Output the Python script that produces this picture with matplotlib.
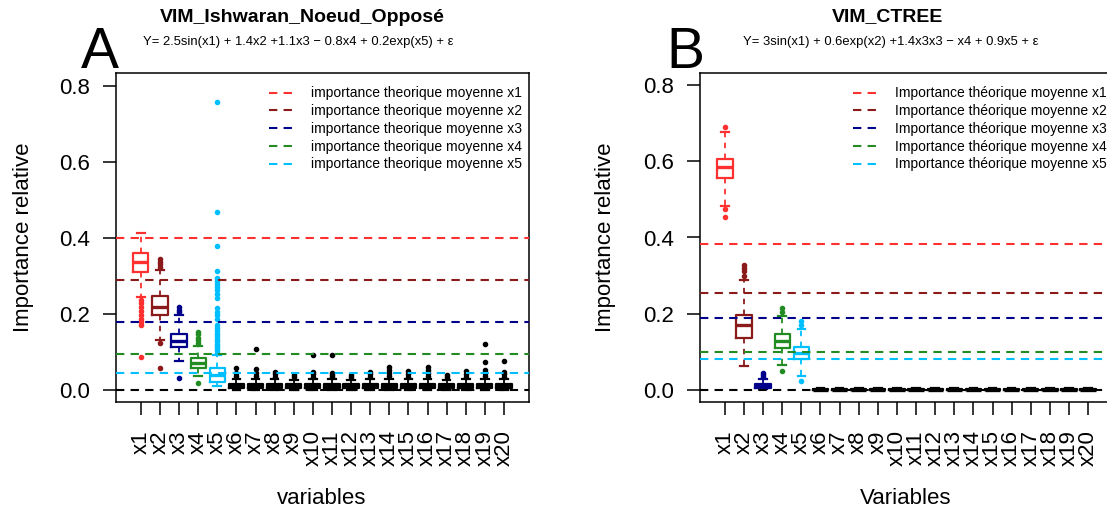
import matplotlib
matplotlib.use('Agg')
import matplotlib.pyplot as plt
from matplotlib.lines import Line2D

plt.rcParams['font.family'] = ['Liberation Sans', 'DejaVu Sans']

# ---------------- data ----------------
variables = ['x%d' % i for i in range(1, 21)]
box_colors = ['#FF3030', '#8B1A1A', '#00008B', '#228B22', '#00BFFF'] + ['#000000'] * 15

# Panel A
A_title = 'VIM_Ishwaran_Noeud_Opposé'
A_subtitle = 'Y= 2.5sin(x1) + 1.4x2 +1.1x3 \u2212 0.8x4 + 0.2exp(x5) + \u03b5'
A_q1 = [0.310, 0.196, 0.112, 0.057, 0.021, 0.004, 0.004, 0.004, 0.004, 0.004,
        0.004, 0.004, 0.004, 0.004, 0.004, 0.004, 0.004, 0.004, 0.004, 0.004]
A_med = [0.338, 0.218, 0.130, 0.070, 0.039, 0.010, 0.010, 0.010, 0.010, 0.010,
         0.010, 0.010, 0.010, 0.010, 0.010, 0.010, 0.010, 0.010, 0.010, 0.010]
A_q3 = [0.361, 0.247, 0.147, 0.083, 0.058, 0.016, 0.016, 0.016, 0.015, 0.016,
        0.016, 0.015, 0.016, 0.016, 0.016, 0.016, 0.015, 0.016, 0.016, 0.016]
A_whislo = [0.245, 0.132, 0.075, 0.037, 0.011, 0.000, 0.000, 0.000, 0.000, 0.000,
            0.000, 0.000, 0.000, 0.000, 0.000, 0.000, 0.000, 0.000, 0.000, 0.000]
A_whishi = [0.412, 0.316, 0.197, 0.116, 0.092, 0.030, 0.030, 0.028, 0.027, 0.029,
            0.029, 0.027, 0.030, 0.030, 0.029, 0.030, 0.027, 0.029, 0.030, 0.029]
A_fliers = [
    [0.238, 0.228, 0.218, 0.208, 0.198, 0.188, 0.178, 0.170, 0.087],
    [0.324, 0.331, 0.338, 0.345, 0.124, 0.058],
    [0.204, 0.211, 0.218, 0.031],
    [0.124, 0.131, 0.138, 0.146, 0.153, 0.019],
    [0.757, 0.467, 0.380, 0.313, 0.295, 0.287, 0.279, 0.270, 0.262, 0.252, 0.243,
     0.215, 0.205, 0.196, 0.186, 0.170, 0.162, 0.155, 0.148, 0.141, 0.134, 0.128,
     0.122, 0.116, 0.110, 0.104, 0.098],
    [0.036, 0.044, 0.058],
    [0.036, 0.045, 0.054, 0.108],
    [0.035, 0.041, 0.047],
    [0.034, 0.040],
    [0.035, 0.041, 0.047, 0.092],
    [0.035, 0.040, 0.046, 0.092],
    [0.034, 0.040],
    [0.035, 0.041, 0.047],
    [0.036, 0.044, 0.052, 0.060],
    [0.035, 0.042, 0.051],
    [0.036, 0.044, 0.052, 0.060],
    [0.034, 0.040],
    [0.035, 0.042, 0.049],
    [0.036, 0.044, 0.052, 0.074, 0.120],
    [0.035, 0.041, 0.047, 0.075],
]
A_theo = [0.399, 0.289, 0.178, 0.095, 0.044]
A_legend = ['importance theorique moyenne x%d' % i for i in range(1, 6)]
A_xlabel = 'variables'

# Panel B
B_title = 'VIM_CTREE'
B_subtitle = 'Y= 3sin(x1) + 0.6exp(x2) +1.4x3x3 \u2212 x4 + 0.9x5 + \u03b5'
B_q1 = [0.555, 0.136, 0.006, 0.109, 0.080, 0.000, 0.000, 0.000, 0.000, 0.000,
        0.000, 0.000, 0.000, 0.000, 0.000, 0.000, 0.000, 0.000, 0.000, 0.000]
B_med = [0.584, 0.170, 0.011, 0.129, 0.096, 0.001, 0.001, 0.001, 0.001, 0.001,
         0.001, 0.001, 0.001, 0.001, 0.001, 0.001, 0.001, 0.001, 0.001, 0.001]
B_q3 = [0.606, 0.198, 0.016, 0.147, 0.112, 0.003, 0.003, 0.003, 0.003, 0.003,
        0.003, 0.003, 0.003, 0.003, 0.003, 0.003, 0.003, 0.003, 0.003, 0.003]
B_whislo = [0.483, 0.063, 0.002, 0.066, 0.038, 0.000, 0.000, 0.000, 0.000, 0.000,
            0.000, 0.000, 0.000, 0.000, 0.000, 0.000, 0.000, 0.000, 0.000, 0.000]
B_whishi = [0.678, 0.289, 0.030, 0.194, 0.160, 0.005, 0.005, 0.005, 0.005, 0.005,
            0.005, 0.005, 0.005, 0.005, 0.005, 0.005, 0.005, 0.005, 0.005, 0.005]
B_fliers = [
    [0.689, 0.476, 0.455],
    [0.300, 0.312, 0.320, 0.328],
    [0.035, 0.040, 0.044],
    [0.205, 0.216, 0.050],
    [0.170, 0.182, 0.024],
] + [[] for _ in range(15)]
B_theo = [0.382, 0.255, 0.188, 0.099, 0.080]
B_legend = ['Importance théorique moyenne x%d' % i for i in range(1, 6)]
B_xlabel = 'Variables'

ylabel = 'Importance relative'
yticks = [0.0, 0.2, 0.4, 0.6, 0.8]
ytick_labels = ['0.0', '0.2', '0.4', '0.6', '0.8']

# ---------------- layout ----------------
W, H = 1107, 512
fig = plt.figure(figsize=(W / 100, H / 100), dpi=100)


def px_axes(left, top, right, bottom):
    return fig.add_axes([left / W, 1 - bottom / H, (right - left) / W, (bottom - top) / H])


def ftext(x, y, s, **kw):
    fig.text(x / W, 1 - y / H, s, **kw)


DASH = (0, (4, 3))


def panel(ax, q1, med, q3, wlo, whi, fliers, theo, legend, ylim):
    stats = []
    for i, v in enumerate(variables):
        stats.append(dict(med=med[i], q1=q1[i], q3=q3[i], whislo=wlo[i],
                          whishi=whi[i], fliers=fliers[i], label=v))
    pos = list(range(1, len(variables) + 1))
    art = ax.bxp(stats, positions=pos, widths=0.8, showfliers=True,
                 patch_artist=False, manage_ticks=False)
    for i, c in enumerate(box_colors):
        art['boxes'][i].set(color=c, linewidth=1.6)
        art['medians'][i].set(color=c, linewidth=2.4)
        for w in art['whiskers'][2 * i:2 * i + 2]:
            w.set(color=c, linewidth=1.3, linestyle=(0, (3, 3)))
        for cp in art['caps'][2 * i:2 * i + 2]:
            cp.set(color=c, linewidth=1.6)
        art['fliers'][i].set(marker='o', markersize=3.0, markerfacecolor=c,
                             markeredgecolor=c, linestyle='none')
    handles = []
    for y, c in zip(theo, box_colors[:5]):
        ax.axhline(y, color=c, linestyle=DASH, linewidth=1.5, zorder=3)
        handles.append(Line2D([], [], color=c, linestyle=DASH, linewidth=1.5))
    ax.axhline(0.0, color='black', linestyle=DASH, linewidth=1.5, zorder=3)
    ax.legend(handles, legend, loc='upper right', frameon=False, fontsize=10,
              handlelength=1.7, handletextpad=1.3, labelspacing=0.27,
              borderaxespad=0.3, borderpad=0.6,
              bbox_to_anchor=(1.0145, 0.997))
    ax.set_xlim(-0.3, 21.3)
    ax.set_ylim(*ylim)
    ax.set_xticks(pos)
    ax.set_xticklabels(variables, rotation=90, fontsize=16)
    ax.set_yticks(yticks)
    ax.set_yticklabels(ytick_labels, fontsize=16)
    ax.tick_params(axis='both', direction='out', length=9.4, width=1.1)
    ax.tick_params(axis='x', pad=11)
    ax.tick_params(axis='y', pad=9)
    for s in ax.spines.values():
        s.set_linewidth(1.1)


axA = px_axes(116, 73, 528.8, 402)
panel(axA, A_q1, A_med, A_q3, A_whislo, A_whishi, A_fliers, A_theo, A_legend,
      (-0.0316, 0.834))
axB = px_axes(700, 73, 1113, 402)
panel(axB, B_q1, B_med, B_q3, B_whislo, B_whishi, B_fliers, B_theo, B_legend,
      (-0.0315, 0.8315))

# titles & labels
ftext(302, 17, A_title, ha='center', va='center', fontsize=14, fontweight='bold')
ftext(298, 42, A_subtitle, ha='center', va='center', fontsize=9.4)
ftext(888, 17, B_title, ha='center', va='center', fontsize=14, fontweight='bold')
ftext(891, 42, B_subtitle, ha='center', va='center', fontsize=9.4)
ftext(100, 68, 'A', ha='center', va='baseline', fontsize=41)
ftext(685, 68, 'B', ha='center', va='baseline', fontsize=41)
ftext(24, 237, ylabel, ha='center', va='center', rotation=90, fontsize=16)
ftext(606, 237, ylabel, ha='center', va='center', rotation=90, fontsize=16)
ftext(322, 498, A_xlabel, ha='center', va='center', fontsize=16)
ftext(906, 498, B_xlabel, ha='center', va='center', fontsize=16)

fig.savefig('out.png', dpi=100)
